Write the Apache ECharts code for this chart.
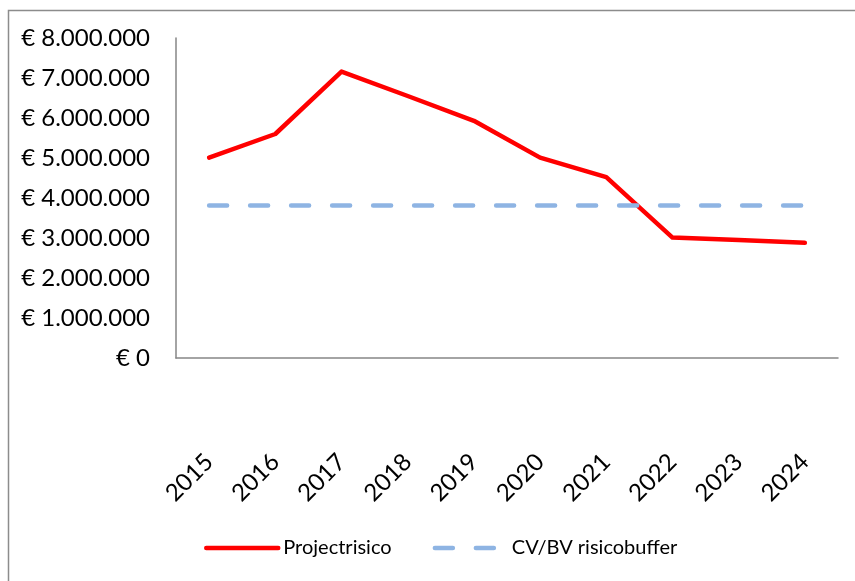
<!DOCTYPE html>
<html>
<head>
<meta charset="utf-8">
<script src="https://cdn.jsdelivr.net/npm/echarts@6/dist/echarts.min.js"></script>
<style>html,body{margin:0;padding:0;background:#fff}#c{width:855px;height:581px}</style>
</head>
<body>
<div id="c"></div>
<script>
const years = ['2015','2016','2017','2018','2019','2020','2021','2022','2023','2024'];
const projectrisico = [5010000, 5600000, 7160000, 6550000, 5930000, 5010000, 4520000, 3010000, 2950000, 2880000];
const risicobuffer = [3810000, 3810000, 3810000, 3810000, 3810000, 3810000, 3810000, 3810000, 3810000, 3810000];
const seriesNames = ['Projectrisico', 'CV/BV risicobuffer'];

function fmtEuro(v) {
  return '€ ' + String(Math.round(v)).replace(/\B(?=(\d{3})+(?!\d))/g, '.');
}

const chart = echarts.init(document.getElementById('c'), null, {renderer: 'canvas'});
const font = 'Lato';
chart.setOption({
  animation: false,
  backgroundColor: '#fff',
  graphic: [{
    type: 'rect', left: 6, top: 8, z: -10,
    shape: {width: 1000, height: 700},
    style: {fill: 'none', stroke: '#8c8c8c', lineWidth: 1.5}
  }],
  grid: {left: 176, top: 38, right: 17, bottom: 223, containLabel: false},
  xAxis: {
    type: 'category',
    data: years,
    boundaryGap: true,
    axisLine: {lineStyle: {color: '#868686', width: 1.5}},
    axisTick: {show: false},
    axisLabel: {rotate: 45, margin: 100, color: '#000', fontFamily: font, fontSize: 24, interval: 0}
  },
  yAxis: {
    type: 'value',
    min: 0, max: 8000000, interval: 1000000,
    axisLine: {show: true, lineStyle: {color: '#868686', width: 1.5}},
    axisTick: {show: false},
    splitLine: {show: false},
    axisLabel: {formatter: fmtEuro, color: '#000', fontFamily: font, fontSize: 24, margin: 26}
  },
  legend: {
    data: seriesNames,
    bottom: 18,
    left: 199,
    itemWidth: 72,
    itemHeight: 10,
    itemGap: 41,
    itemStyle: {opacity: 0},
    lineStyle: {width: 4.5},
    textStyle: {color: '#000', fontFamily: font, fontSize: 20}
  },
  series: [
    {
      name: seriesNames[0], type: 'line', data: projectrisico,
      symbol: 'none',
      lineStyle: {color: '#ff0000', width: 4.5, cap: 'round', join: 'round'},
      itemStyle: {color: '#ff0000'}
    },
    {
      name: seriesNames[1], type: 'line', data: risicobuffer,
      symbol: 'none',
      lineStyle: {color: '#8eb4e3', width: 4.5, type: [18, 23], cap: 'round'},
      itemStyle: {color: '#8eb4e3'}
    }
  ]
});
</script>
</body>
</html>
